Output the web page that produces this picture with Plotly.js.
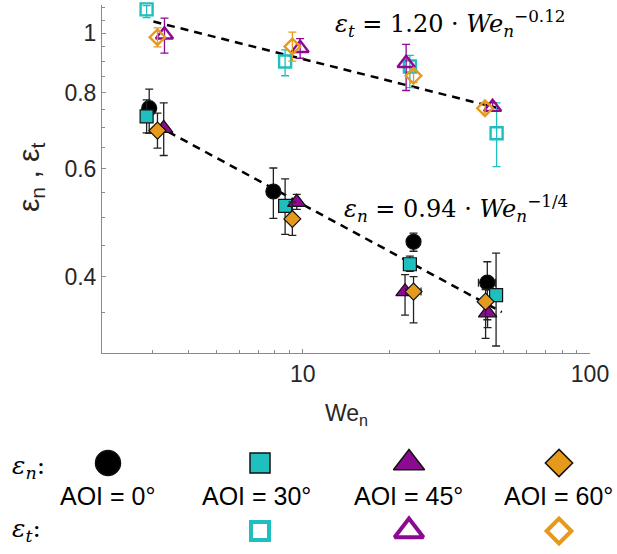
<!DOCTYPE html>
<html><head><meta charset="utf-8">
<script src="https://cdn.plot.ly/plotly-3.0.1.min.js"></script>
<style>html,body{margin:0;padding:0;background:#fff}#chart{width:617px;height:554px}</style>
</head><body><div id="chart"></div>
<script>
// ---------- data ----------
const groupLabels = ['AOI = 0°', 'AOI = 30°', 'AOI = 45°', 'AOI = 60°'];
const xTickVals = [10, 100];
const xTickText = ['10', '100'];
const yTickVals = [0.4, 0.6, 0.8, 1];
const yTickText = ['0.4', '0.6', '0.8', '1'];
const xMinorVals = [3, 4, 5, 6, 7, 8, 9, 20, 30, 40, 50, 60, 70, 80, 90];
const yMinorVals = [0.35, 0.45, 0.5, 0.55, 0.65, 0.7, 0.75, 0.85, 0.9, 0.95, 1.05, 1.1];

// epsilon_n (filled markers): x, y, upper / lower error-bar ends, x-error
const n0_x  = [2.92, 7.9, 24.3, 43.9];
const n0_y  = [0.754, 0.551, 0.456, 0.391];
const n0_hi = [0.810, 0.602, 0.471, 0.423];
const n0_lo = [0.686, 0.498, 0.440, 0.340];
const n0_dx = [0, 0, 0, 3.0];

const n30_x  = [2.86, 8.68, 23.6, 47.1];
const n30_y  = [0.731, 0.522, 0.419, 0.373];
const n30_hi = [0.778, 0.578, 0.432, 0.437];
const n30_lo = [0.687, 0.469, 0.408, 0.308];
const n30_dx = [0, 0, 0, 0];

const n45_x  = [3.28, 9.53, 22.7, 44.0];
const n45_y  = [0.699, 0.529, 0.378, 0.349];
const n45_hi = [0.769, 0.545, 0.403, 0.366];
const n45_lo = [0.631, 0.515, 0.346, 0.330];
const n45_dx = [0, 0, 0, 0];

const n60_x  = [3.12, 9.2, 24.3, 43.3];
const n60_y  = [0.693, 0.497, 0.378, 0.364];
const n60_hi = [0.740, 0.530, 0.400, 0.381];
const n60_lo = [0.649, 0.467, 0.336, 0.317];
const n60_dx = [0, 0, 1.5, 1.5];

// epsilon_t (open markers)
const t30_x  = [2.86, 8.68, 23.6, 47.3];
const t30_y  = [1.094, 0.899, 0.882, 0.686];
const t30_hi = [1.11, 0.939, 0.920, 0.769];
const t30_lo = [1.06, 0.852, 0.815, 0.605];

const t45_x  = [3.30, 9.79, 22.9, 45.8];
const t45_y  = [0.994, 0.945, 0.893, 0.757];
const t45_hi = [1.058, 0.980, 0.959, 0.770];
const t45_lo = [0.928, 0.910, 0.806, 0.745];

const t60_x  = [3.12, 9.2, 24.3, 43.1];
const t60_y  = [0.985, 0.951, 0.852, 0.754];
const t60_hi = [1.020, 1.004, 0.870, 0.770];
const t60_lo = [0.950, 0.900, 0.830, 0.740];

// fit lines (end points)
const fitT_x = [3.02, 48.0];
const fitT_y = [1.045, 0.754];
const fitN_x = [3.4, 49.3];
const fitN_y = [0.690, 0.350];

// ---------- styles ----------
const CYAN = '#1FBFBF', PURPLE = '#8C0A92', ORANGE = '#E69A1C', BLACK = '#000000';
const SANS = 'Liberation Sans, Arial, sans-serif';
const SERIF = 'DejaVu Serif, Liberation Serif, serif';

function up(hi, y) { return hi.map((v, i) => v - y[i]); }
function dn(lo, y) { return lo.map((v, i) => y[i] - v); }

function filled(x, y, hi, lo, dx, sym, size, color) {
  return {
    type: 'scatter', mode: 'markers', x: x, y: y, xaxis: 'x', yaxis: 'y',
    cliponaxis: false, hoverinfo: 'skip',
    marker: {symbol: sym, size: size, color: color, line: {color: '#111', width: 1.2}},
    error_y: {type: 'data', symmetric: false, array: up(hi, y), arrayminus: dn(lo, y),
              color: '#222', thickness: 1.3, width: 4},
    error_x: {type: 'data', symmetric: true, array: dx, color: '#222', thickness: 1.3, width: 4}
  };
}
function open(x, y, hi, lo, sym, size, color) {
  return {
    type: 'scatter', mode: 'markers', x: x, y: y, xaxis: 'x', yaxis: 'y',
    cliponaxis: false, hoverinfo: 'skip',
    marker: {symbol: sym, size: size, color: color, line: {color: color, width: 2.4}},
    error_y: {type: 'data', symmetric: false, array: up(hi, y), arrayminus: dn(lo, y),
              color: color, thickness: 1.3, width: 4}
  };
}

const traces = [
  {type: 'scatter', mode: 'lines', x: fitT_x, y: fitT_y, xaxis: 'x', yaxis: 'y', hoverinfo: 'skip',
   line: {color: '#000', width: 2.5, dash: '8px,6px'}},
  {type: 'scatter', mode: 'lines', x: fitN_x, y: fitN_y, xaxis: 'x', yaxis: 'y', hoverinfo: 'skip',
   line: {color: '#000', width: 2.5, dash: '8px,6px'}},
  open(t30_x, t30_y, t30_hi, t30_lo, 'square-open', 12, CYAN),
  open(t45_x, t45_y, t45_hi, t45_lo, 'triangle-up-open', 15, PURPLE),
  open(t60_x, t60_y, t60_hi, t60_lo, 'diamond-open', 12, ORANGE),
  filled(n0_x, n0_y, n0_hi, n0_lo, n0_dx, 'circle', 15, BLACK),
  filled(n30_x, n30_y, n30_hi, n30_lo, n30_dx, 'square', 13, CYAN),
  filled(n45_x, n45_y, n45_hi, n45_lo, n45_dx, 'triangle-up', 16, PURPLE),
  filled(n60_x, n60_y, n60_hi, n60_lo, n60_dx, 'diamond', 13, ORANGE)
];

// ---------- legend block (drawn on a hidden pixel-like subplot) ----------
const legX = [108, 260, 409, 559];
const legRowN = 463, legRowT = 531;
const legSym = ['circle', 'square', 'triangle-up', 'diamond'];
const legSize = [25, 20, 27, 21];
const legCol = [BLACK, CYAN, PURPLE, ORANGE];
for (let i = 0; i < 4; i++) {
  traces.push({type: 'scatter', mode: 'markers', x: [legX[i]], y: [legRowN], xaxis: 'x2', yaxis: 'y2',
    hoverinfo: 'skip', cliponaxis: false,
    marker: {symbol: legSym[i], size: legSize[i], color: legCol[i], line: {color: '#111', width: 1.5}}});
  if (i > 0) {
    traces.push({type: 'scatter', mode: 'markers', x: [legX[i]], y: [legRowT], xaxis: 'x2', yaxis: 'y2',
      hoverinfo: 'skip', cliponaxis: false,
      marker: {symbol: legSym[i] + '-open', size: legSize[i] - 2, color: legCol[i], line: {color: legCol[i], width: 4}}});
  }
}

const W = 617, H = 554;
const px = v => v / W, py = v => 1 - v / H;

const annotations = [
  {xref: 'paper', yref: 'paper', x: px(451), y: py(23), xanchor: 'center', yanchor: 'middle', showarrow: false,
   text: '<i>ε<sub>t</sub></i> = 1.20 · <i>We<sub>n</sub></i><sup>−0.12</sup>',
   font: {family: SERIF, size: 24, color: '#000'}},
  {xref: 'paper', yref: 'paper', x: px(456), y: py(208), xanchor: 'center', yanchor: 'middle', showarrow: false,
   text: '<i>ε<sub>n</sub></i> = 0.94 · <i>We<sub>n</sub></i><sup>−1/4</sup>',
   font: {family: SERIF, size: 24, color: '#000'}},
  {xref: 'paper', yref: 'paper', x: px(346), y: py(414), xanchor: 'center', yanchor: 'middle', showarrow: false,
   text: 'We<sub>n</sub>', font: {family: SANS, size: 23, color: '#262626'}},
  {xref: 'paper', yref: 'paper', x: px(30), y: py(178), xanchor: 'center', yanchor: 'middle', showarrow: false,
   textangle: -90, text: 'ε<sub>n</sub> , ε<sub>t</sub>', font: {family: SANS, size: 30, color: '#262626'}},
  {xref: 'paper', yref: 'paper', x: px(10), y: py(467), xanchor: 'left', yanchor: 'middle', showarrow: false,
   text: '<i>ε<sub>n</sub></i>:', font: {family: SERIF, size: 25, color: '#000'}},
  {xref: 'paper', yref: 'paper', x: px(10), y: py(530), xanchor: 'left', yanchor: 'middle', showarrow: false,
   text: '<i>ε<sub>t</sub></i>:', font: {family: SERIF, size: 25, color: '#000'}}
];
const legTextX = [58, 200, 352, 502];
for (let i = 0; i < 4; i++) {
  annotations.push({xref: 'paper', yref: 'paper', x: px(legTextX[i]), y: py(496), xanchor: 'left', yanchor: 'middle',
    showarrow: false, text: groupLabels[i], font: {family: SANS, size: 25, color: '#000'}});
}

const axCommon = {
  showline: true, linecolor: '#8a8a8a', linewidth: 1, mirror: false,
  showgrid: false, zeroline: false, ticks: 'inside', ticklen: 4, tickcolor: '#8a8a8a',
  tickfont: {family: SANS, size: 23, color: '#262626'}, fixedrange: true
};

const layout = {
  width: W, height: H, margin: {l: 0, r: 0, t: 0, b: 0},
  paper_bgcolor: '#fff', plot_bgcolor: 'rgba(0,0,0,0)', showlegend: false,
  xaxis: Object.assign({}, axCommon, {
    type: 'log', domain: [102 / W, 590 / W], range: [Math.log10(2), 2], anchor: 'y',
    tickmode: 'array', tickvals: xTickVals, ticktext: xTickText,
    minor: {tickmode: 'array', tickvals: xMinorVals, ticks: 'inside', ticklen: 3, tickcolor: '#8a8a8a', showgrid: false}
  }),
  yaxis: Object.assign({}, axCommon, {
    type: 'log', domain: [1 - 353 / H, 1 - 5 / H], range: [Math.log10(0.3), Math.log10(1.112)], anchor: 'x',
    tickmode: 'array', tickvals: yTickVals, ticktext: yTickText,
    minor: {tickmode: 'array', tickvals: yMinorVals, ticks: 'inside', ticklen: 3, tickcolor: '#8a8a8a', showgrid: false}
  }),
  xaxis2: {domain: [0, 1], range: [0, W], visible: false, anchor: 'y2', fixedrange: true},
  yaxis2: {domain: [0, 120 / H], range: [H, H - 120], visible: false, anchor: 'x2', fixedrange: true},
  annotations: annotations
};

Plotly.newPlot('chart', traces, layout, {staticPlot: true, displayModeBar: false});
</script>
</body></html>
